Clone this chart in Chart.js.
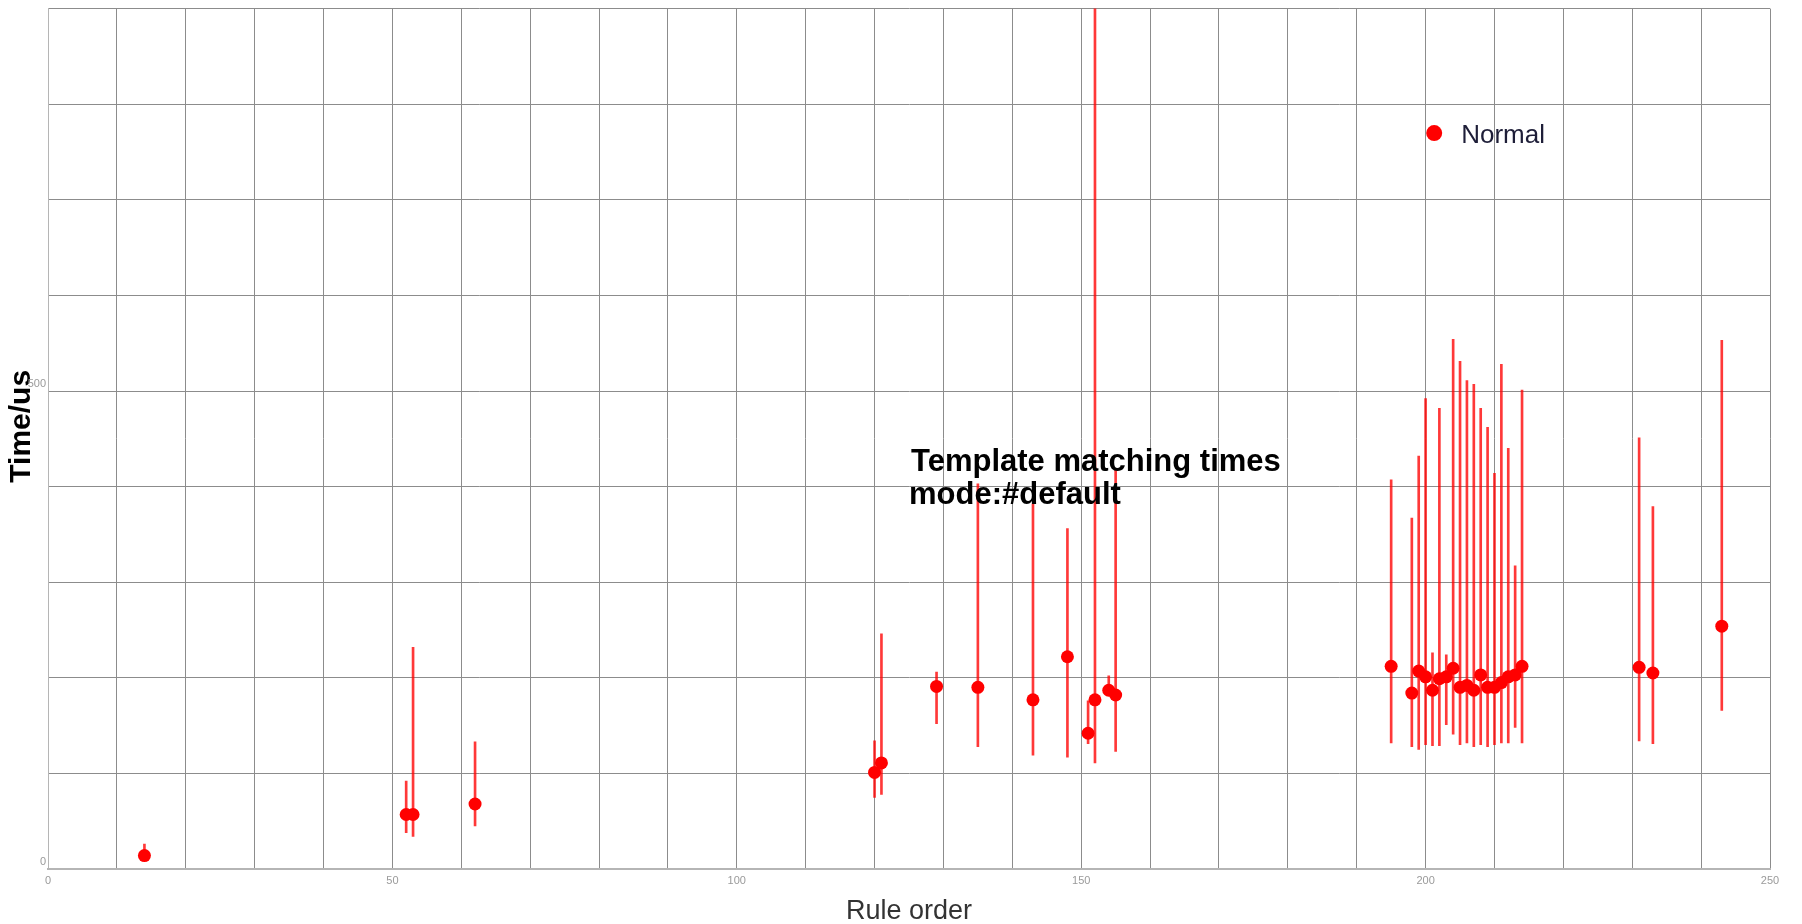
<!DOCTYPE html>
<html>
<head>
<meta charset="utf-8">
<title>Template matching times</title>
<script src="https://cdn.jsdelivr.net/npm/chart.js@4.4.1/dist/chart.umd.min.js"></script>
<style>
  html, body { margin: 0; padding: 0; background: #fff; }
  #wrap { width: 1802px; height: 924px; position: relative; }
</style>
</head>
<body>
<div id="wrap"><canvas id="myChart"></canvas></div>
<script>
const ruleOrder = [14, 52, 53, 62, 120, 121, 129, 135, 143, 148, 151, 152, 154, 155,
  195, 198, 199, 200, 201, 202, 203, 204, 205, 206, 207, 208, 209, 210, 211, 212, 213, 214,
  231, 233, 243];
const times = [14, 57, 57, 68, 101, 111, 191, 190, 177, 222, 142, 177, 187, 182,
  212, 184, 207, 201, 187, 199, 201, 210, 190, 192, 187, 203, 190, 190, 195, 201, 203, 212,
  211, 205, 254];
const minTimes = [9, 38, 34, 45, 75, 78, 152, 128, 119, 117, 131, 111, 184, 123,
  132, 128, 125, 130, 129, 129, 151, 141, 130, 132, 128, 130, 128, 130, 132, 132, 148, 132,
  134, 131, 166];
const maxTimes = [26, 92, 232, 133, 134, 246, 206, 403, 382, 356, 176, 1000, 202, 419,
  407, 367, 432, 492, 226, 482, 224, 554, 531, 511, 507, 482, 462, 414, 528, 440, 317, 501,
  451, 379, 553];

const xLabelEvery = 50;
const yLabelEvery = 500;
const seriesName = "Normal";
const noteLines = ["Template matching times", "mode:#default"];

const ctx = document.getElementById("myChart").getContext("2d");
const gridColor = "#8c8c8c";
const red = "#ff0000";

// legend + note drawn inside the plot, like the original
const insideText = {
  id: "insideText",
  afterDatasetsDraw(chart) {
    const { ctx, chartArea: a } = chart;
    const w = a.right - a.left, h = a.bottom - a.top;
    ctx.save();
    // legend
    const lx = a.left + w * 0.805, ly = a.top + h * 0.1447;
    ctx.fillStyle = red;
    ctx.beginPath();
    ctx.arc(lx, ly, 8, 0, Math.PI * 2);
    ctx.fill();
    ctx.fillStyle = "#1e1e38";
    ctx.font = "26px 'Liberation Sans', Arial, sans-serif";
    ctx.textBaseline = "middle";
    ctx.textAlign = "left";
    ctx.fillText(chart.data.datasets[0].label, lx + 27, ly + 3);
    // note
    ctx.fillStyle = "#000";
    ctx.font = "bold 31px 'Liberation Sans', Arial, sans-serif";
    ctx.textBaseline = "alphabetic";
    const nx = a.left + w * 0.5 + 1;
    ctx.fillText(noteLines[0], nx + 1, a.top + 462);
    ctx.fillText(noteLines[1], nx - 1, a.top + 495);
    ctx.restore();
  }
};

const bgWhite = {
  id: "bgWhite",
  beforeDraw(chart) {
    const c = chart.ctx;
    c.save();
    c.fillStyle = "#fff";
    c.fillRect(0, 0, chart.width, chart.height);
    c.restore();
  }
};

const data = {
  datasets: [
    {
      type: "scatter",
      label: seriesName,
      data: ruleOrder.map((x, i) => ({ x: x, y: times[i] })),
      pointRadius: 6.5,
      pointHoverRadius: 6.5,
      pointBackgroundColor: red,
      pointBorderWidth: 0,
      order: 0,
    },
    {
      type: "bar",
      label: "range",
      data: ruleOrder.map((x, i) => ({ x: x, y: [minTimes[i], maxTimes[i]] })),
      backgroundColor: "rgba(255,0,0,0.78)",
      borderWidth: 0,
      barThickness: 2,
      grouped: false,
      order: 1,
    },
  ],
};

const config = {
  type: "scatter",
  data: data,
  plugins: [bgWhite, insideText],
  options: {
    responsive: true,
    maintainAspectRatio: false,
    animation: false,
    layout: { padding: { top: 7, right: 32, left: 0, bottom: 0 } },
    plugins: {
      legend: { display: false },
      tooltip: { enabled: false },
    },
    scales: {
      x: {
        type: "linear",
        min: 0,
        max: 250,
        offset: false,
        afterFit: (scale) => { scale.height = 55; },
        grid: { color: gridColor, drawTicks: false, offset: false },
        border: { color: "#b5b5b5", width: 2 },
        ticks: {
          stepSize: 10,
          autoSkip: false,
          maxRotation: 0,
          padding: 5,
          color: "#9a9a9a",
          font: { family: "'Liberation Sans', Arial, sans-serif", size: 11 },
          callback: (v) => (v % xLabelEvery === 0 ? v : ""),
        },
        title: {
          display: true,
          text: "Rule order",
          color: "#333",
          padding: { top: 0, bottom: 0 },
          font: { family: "'Liberation Sans', Arial, sans-serif", size: 27, lineHeight: 0.92 },
        },
      },
      y: {
        min: 0,
        max: 900,
        afterFit: (scale) => { scale.width = 48; },
        grid: { color: gridColor, drawTicks: false },
        border: { color: "#b5b5b5" },
        ticks: {
          stepSize: 100,
          padding: 2,
          labelOffset: -7,
          color: "#9a9a9a",
          font: { family: "'Liberation Sans', Arial, sans-serif", size: 11 },
          callback: (v) => (v % yLabelEvery === 0 ? v : ""),
        },
        title: {
          display: true,
          text: "\u00a0\u00a0\u00a0Time/us",
          color: "#000",
          padding: { top: 4, bottom: 0 },
          font: { family: "'Liberation Sans', Arial, sans-serif", size: 30, weight: "bold" },
        },
      },
    },
  },
};

const myChart = new Chart(ctx, config);
</script>
</body>
</html>
